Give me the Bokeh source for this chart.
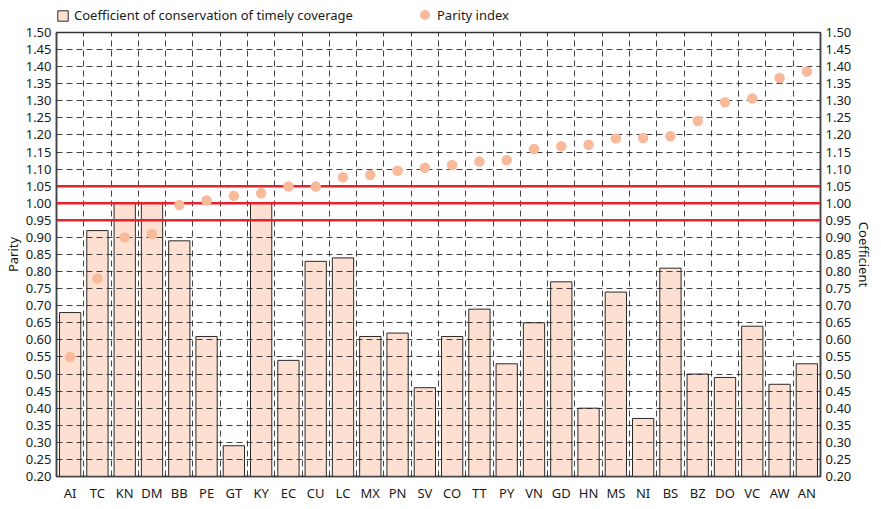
from bokeh.plotting import figure
from bokeh.layouts import column
from bokeh.models import (ColumnDataSource, Range1d, LinearAxis, FixedTicker,
                          Span, Legend, LegendItem)
from bokeh.embed import file_html
from bokeh.resources import INLINE

categories = ["AI", "TC", "KN", "DM", "BB", "PE", "GT", "KY", "EC", "CU",
              "LC", "MX", "PN", "SV", "CO", "TT", "PY", "VN", "GD", "HN",
              "MS", "NI", "BS", "BZ", "DO", "VC", "AW", "AN"]
coefficient = [0.68, 0.92, 1.00, 1.00, 0.89, 0.61, 0.29, 1.00, 0.54, 0.83,
               0.84, 0.61, 0.62, 0.46, 0.61, 0.69, 0.53, 0.65, 0.77, 0.40,
               0.74, 0.37, 0.81, 0.50, 0.49, 0.64, 0.47, 0.53]
parity = [0.55, 0.78, 0.90, 0.91, 0.995, 1.008, 1.022, 1.029, 1.049, 1.049,
          1.076, 1.083, 1.095, 1.104, 1.112, 1.122, 1.126, 1.159, 1.167, 1.171,
          1.19, 1.191, 1.196, 1.241, 1.296, 1.307, 1.367, 1.386]
y_ticks = [0.20, 0.25, 0.30, 0.35, 0.40, 0.45, 0.50, 0.55, 0.60, 0.65, 0.70,
           0.75, 0.80, 0.85, 0.90, 0.95, 1.00, 1.05, 1.10, 1.15, 1.20, 1.25,
           1.30, 1.35, 1.40, 1.45, 1.50]
ref_lines = [0.95, 1.00, 1.05]
series_names = ["Coefficient of conservation of timely coverage", "Parity index"]

FONT = "Noto Sans"
BAR_FILL = "#fde0d1"
BAR_LINE = "#2a2a2a"
DOT = "#f9b99b"
RED = "#e8212b"
FRAME_W = 764
FRAME_H = 444
LEFT = 52

n = len(categories)
xpos = [i + 0.5 for i in range(n)]
src = ColumnDataSource(dict(x=xpos, cat=categories, coef=coefficient, par=parity))

# ---------------- main chart ----------------
p = figure(frame_width=FRAME_W, frame_height=FRAME_H, output_backend="svg",
           toolbar_location=None,
           x_range=Range1d(0, n), y_range=Range1d(0.20, 1.50),
           min_border_left=LEFT, min_border_right=4, min_border_top=9,
           min_border_bottom=2)
p.background_fill_color = "white"
p.border_fill_color = "white"
p.outline_line_color = "#333333"
p.outline_line_width = 1.5

bars = p.vbar(x="x", top="coef", bottom=0, width=0.78, source=src,
              fill_color=BAR_FILL, line_color=BAR_LINE, line_width=1)
for v in ref_lines:
    p.add_layout(Span(location=v, dimension="width", line_color=RED,
                      line_width=2.5, level="annotation"))
dots = p.scatter(x="x", y="par", size=10.5, source=src, fill_color=DOT,
                 line_color=None, marker="circle")
dots.level = "overlay"

p.xaxis.ticker = FixedTicker(ticks=xpos)
p.xaxis.major_label_overrides = {x: c for x, c in zip(xpos, categories)}
p.yaxis.ticker = FixedTicker(ticks=y_ticks)
p.yaxis.major_label_overrides = {t: f"{t:.2f}" for t in y_ticks}
p.yaxis.axis_label = "Parity"

right = LinearAxis(ticker=FixedTicker(ticks=y_ticks), axis_label="Coefficient")
right.major_label_overrides = {t: f"{t:.2f}" for t in y_ticks}
p.add_layout(right, "right")

for ax in [p.xaxis[0], p.yaxis[0], right]:
    ax.major_tick_line_color = None
    ax.minor_tick_line_color = None
    ax.major_tick_out = 0
    ax.major_tick_in = 0
    ax.minor_tick_out = 0
    ax.minor_tick_in = 0
    ax.axis_line_color = "#444444"
    ax.axis_line_width = 1.5
    ax.major_label_text_font = FONT
    ax.major_label_text_font_size = "13px"
    ax.major_label_text_color = "#1a1a1a"
    ax.axis_label_text_font = FONT
    ax.axis_label_text_font_size = "13px"
    ax.axis_label_text_font_style = "normal"
    ax.axis_label_text_color = "#1a1a1a"
    ax.major_label_standoff = 5
    ax.axis_label_standoff = 1
p.xaxis.major_label_standoff = 7

p.xgrid.ticker = FixedTicker(ticks=list(range(n + 1)))
p.ygrid.ticker = FixedTicker(ticks=y_ticks)
for g in [p.xgrid[0], p.ygrid[0]]:
    g.grid_line_color = "#222222"
    g.grid_line_dash = "6 4"
    g.grid_line_width = 1
    g.grid_line_alpha = 0.85
    g.level = "guide"

# ---------------- legend strip ----------------
# same data source; the strip's ranges lie outside the data so only the
# legend swatches are drawn
lg = figure(frame_width=FRAME_W, frame_height=16, output_backend="svg",
            toolbar_location=None, x_axis_location=None, y_axis_location=None,
            x_range=Range1d(0, n), y_range=Range1d(10, 11),
            min_border_left=LEFT, min_border_right=4, min_border_top=7,
            min_border_bottom=0)
lg.outline_line_color = None
lg.grid.visible = False
lbar = lg.vbar(x="x", top="coef", bottom=0, width=0.78, source=src,
               fill_color=BAR_FILL, line_color=BAR_LINE, line_width=1)
ldot = lg.scatter(x="x", y="par", size=10.5, source=src, fill_color=DOT,
                  line_color=None, marker="circle")

common = dict(orientation="horizontal", label_text_font=FONT,
              label_text_font_size="13px", label_text_color="#1a1a1a",
              margin=0, border_line_color=None, background_fill_alpha=0)
leg_a = Legend(items=[LegendItem(label=series_names[0], renderers=[lbar], index=0)],
               location="center_left", glyph_width=13, glyph_height=13,
               label_standoff=5, padding=1, **common)
leg_b = Legend(items=[LegendItem(label=series_names[1], renderers=[ldot], index=0)],
               location=(356, -4), glyph_width=25, glyph_height=25,
               label_standoff=0, padding=0, **common)
lg.add_layout(leg_a, "center")
lg.add_layout(leg_b, "center")

layout = column(lg, p, spacing=0)
open("out.html", "w").write(file_html(layout, INLINE))
